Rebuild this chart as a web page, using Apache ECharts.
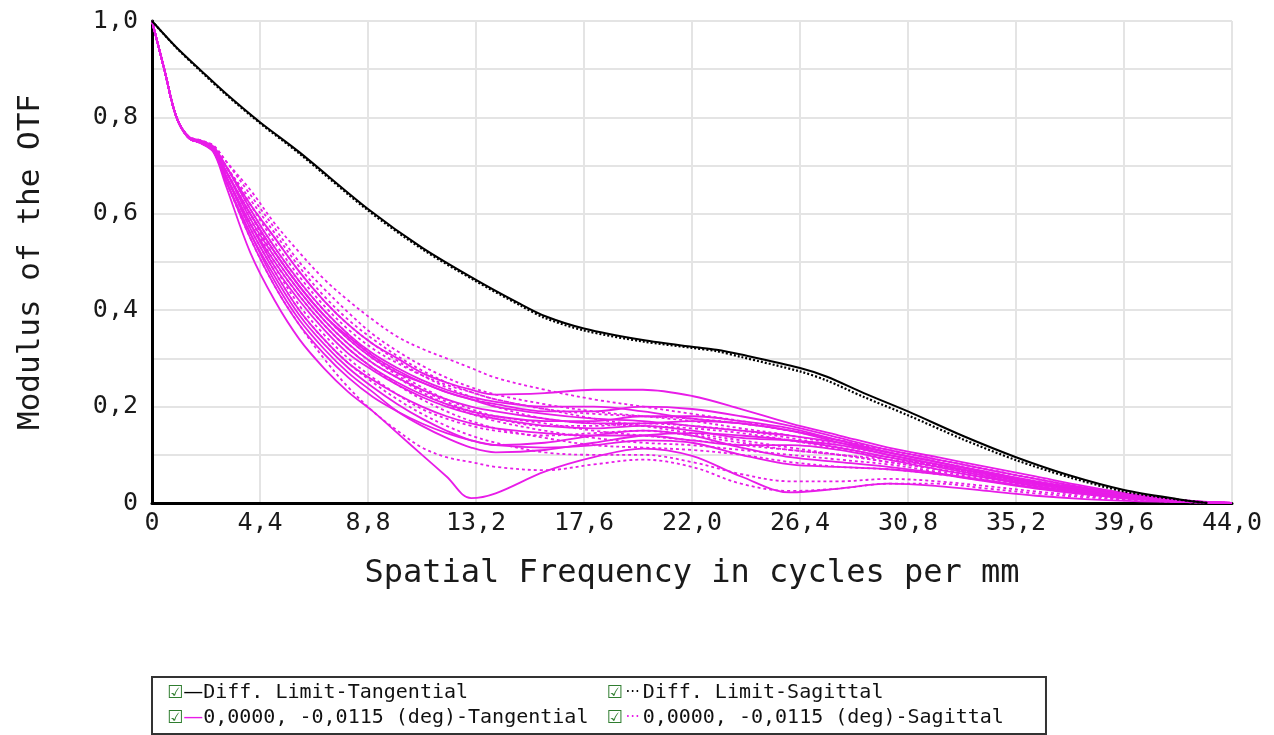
<!DOCTYPE html>
<html>
<head>
<meta charset="utf-8">
<script src="https://cdn.jsdelivr.net/npm/echarts@6/dist/echarts.min.js"></script>
<style>
html,body{margin:0;padding:0;background:#fff;}
#chart{width:1274px;height:735px;}
</style>
</head>
<body>
<div id="chart"></div>
<script>
// ---- data ----
const xTicks = [0, 4.4, 8.8, 13.2, 17.6, 22.0, 26.4, 30.8, 35.2, 39.6, 44.0];
const yTicks = [0, 0.2, 0.4, 0.6, 0.8, 1.0];

const legendNames = [
  'Diff. Limit-Tangential',
  'Diff. Limit-Sagittal',
  '0,0000, -0,0115 (deg)-Tangential',
  '0,0000, -0,0115 (deg)-Sagittal'
];

// diffraction limit frequencies & values
const diffX = [0, 1, 2, 3, 4.4, 6, 8.8, 11, 13.2, 15, 16, 17.6, 20, 22, 23, 24, 26.4, 27.5, 29, 30.8, 33, 35.2, 37.4, 39.6, 41.8, 43];
const diffTan = [1.0, 0.945, 0.897, 0.85, 0.79, 0.728, 0.61, 0.53, 0.463, 0.413, 0.388, 0.362, 0.338, 0.324, 0.318, 0.308, 0.28, 0.262, 0.228, 0.19, 0.14, 0.095, 0.057, 0.027, 0.008, 0.0];
const diffSag = [1.0, 0.944, 0.895, 0.848, 0.788, 0.725, 0.607, 0.527, 0.46, 0.41, 0.384, 0.358, 0.335, 0.322, 0.315, 0.303, 0.273, 0.254, 0.22, 0.182, 0.133, 0.089, 0.053, 0.024, 0.007, 0.0];

// field curves frequencies
const fx = [0, 0.5, 1, 1.5, 2, 2.5, 3, 4, 5, 6, 7, 8, 9, 10, 11, 12, 13, 14, 16, 18, 20, 22, 24, 26, 28, 30, 32, 34, 36, 38, 40, 42, 44];

const tan1  = [1.0,0.90,0.80,0.757,0.746,0.728,0.66,0.52,0.42,0.34,0.28,0.23,0.19,0.145,0.10,0.055,0.01,0.02,0.065,0.095,0.113,0.098,0.055,0.022,0.03,0.04,0.035,0.025,0.015,0.008,0.004,0.002,0.0];
const tan2  = [1.0,0.90,0.80,0.760,0.752,0.740,0.70,0.62,0.55,0.48,0.42,0.37,0.33,0.30,0.27,0.25,0.235,0.225,0.228,0.235,0.235,0.222,0.195,0.165,0.14,0.115,0.095,0.075,0.055,0.035,0.018,0.006,0.0];
const tan3  = [1.0,0.90,0.80,0.759,0.750,0.736,0.69,0.60,0.52,0.45,0.39,0.34,0.30,0.27,0.25,0.23,0.215,0.205,0.19,0.19,0.20,0.195,0.18,0.16,0.135,0.11,0.09,0.07,0.05,0.032,0.016,0.005,0.0];
const tan4  = [1.0,0.90,0.80,0.758,0.748,0.733,0.69,0.59,0.51,0.44,0.38,0.33,0.29,0.26,0.235,0.215,0.20,0.19,0.175,0.165,0.165,0.17,0.165,0.15,0.125,0.10,0.08,0.06,0.042,0.027,0.013,0.004,0.0];
const tan5  = [1.0,0.90,0.80,0.758,0.748,0.732,0.68,0.58,0.49,0.42,0.36,0.31,0.275,0.245,0.22,0.20,0.185,0.175,0.16,0.155,0.16,0.15,0.135,0.13,0.12,0.10,0.08,0.06,0.04,0.025,0.012,0.004,0.0];
const tan6  = [1.0,0.90,0.80,0.757,0.747,0.730,0.68,0.57,0.48,0.40,0.34,0.29,0.255,0.225,0.20,0.18,0.165,0.155,0.145,0.14,0.14,0.13,0.12,0.12,0.11,0.09,0.07,0.052,0.035,0.022,0.010,0.003,0.0];
const tan7  = [1.0,0.90,0.80,0.757,0.747,0.729,0.67,0.55,0.45,0.37,0.31,0.26,0.22,0.19,0.165,0.145,0.13,0.12,0.115,0.12,0.13,0.125,0.10,0.08,0.075,0.07,0.06,0.045,0.03,0.018,0.008,0.003,0.0];
const tan8  = [1.0,0.90,0.80,0.759,0.750,0.737,0.70,0.61,0.53,0.46,0.40,0.35,0.31,0.28,0.255,0.235,0.22,0.21,0.20,0.20,0.19,0.175,0.165,0.15,0.13,0.105,0.085,0.065,0.045,0.03,0.015,0.005,0.0];
const tan9  = [1.0,0.90,0.80,0.758,0.747,0.731,0.67,0.56,0.46,0.38,0.32,0.27,0.23,0.19,0.16,0.135,0.115,0.105,0.11,0.125,0.14,0.145,0.14,0.13,0.115,0.095,0.075,0.055,0.038,0.024,0.011,0.003,0.0];
const tan10 = [1.0,0.90,0.80,0.759,0.749,0.735,0.69,0.60,0.52,0.45,0.39,0.345,0.305,0.275,0.25,0.23,0.215,0.20,0.185,0.175,0.17,0.16,0.15,0.14,0.125,0.105,0.085,0.063,0.044,0.028,0.013,0.004,0.0];
const tan11 = [1.0,0.90,0.80,0.758,0.748,0.733,0.68,0.58,0.50,0.43,0.37,0.32,0.28,0.25,0.225,0.205,0.19,0.18,0.17,0.17,0.18,0.18,0.17,0.155,0.13,0.105,0.085,0.064,0.045,0.028,0.014,0.004,0.0];
const tan12 = [1.0,0.90,0.80,0.757,0.747,0.730,0.67,0.56,0.47,0.39,0.33,0.28,0.24,0.205,0.175,0.15,0.13,0.12,0.125,0.14,0.15,0.14,0.115,0.095,0.085,0.075,0.062,0.047,0.032,0.02,0.009,0.003,0.0];

const sag1  = [1.0,0.90,0.80,0.760,0.752,0.742,0.71,0.65,0.58,0.52,0.465,0.42,0.38,0.345,0.32,0.30,0.28,0.26,0.235,0.215,0.20,0.185,0.17,0.15,0.13,0.11,0.09,0.07,0.05,0.032,0.016,0.005,0.0];
const sag2  = [1.0,0.90,0.80,0.760,0.751,0.739,0.70,0.63,0.56,0.49,0.43,0.38,0.34,0.305,0.275,0.25,0.23,0.215,0.195,0.185,0.18,0.175,0.165,0.15,0.13,0.11,0.09,0.07,0.05,0.032,0.016,0.005,0.0];
const sag3  = [1.0,0.90,0.80,0.757,0.746,0.730,0.67,0.55,0.45,0.37,0.30,0.24,0.19,0.15,0.115,0.095,0.085,0.075,0.068,0.08,0.09,0.075,0.04,0.025,0.03,0.04,0.04,0.03,0.02,0.012,0.006,0.002,0.0];
const sag4  = [1.0,0.90,0.80,0.759,0.750,0.737,0.70,0.62,0.54,0.47,0.41,0.36,0.32,0.29,0.265,0.245,0.23,0.215,0.195,0.175,0.16,0.145,0.13,0.115,0.10,0.085,0.07,0.055,0.04,0.026,0.013,0.004,0.0];
const sag5  = [1.0,0.90,0.80,0.758,0.748,0.733,0.69,0.60,0.51,0.44,0.38,0.33,0.29,0.26,0.23,0.205,0.185,0.17,0.15,0.135,0.125,0.12,0.11,0.10,0.09,0.08,0.065,0.05,0.035,0.022,0.011,0.003,0.0];
const sag6  = [1.0,0.90,0.80,0.758,0.749,0.735,0.70,0.61,0.53,0.46,0.40,0.35,0.305,0.27,0.24,0.215,0.195,0.18,0.165,0.15,0.14,0.13,0.12,0.11,0.10,0.09,0.075,0.058,0.04,0.025,0.012,0.004,0.0];
const sag7  = [1.0,0.90,0.80,0.757,0.747,0.731,0.68,0.57,0.48,0.40,0.34,0.29,0.25,0.215,0.185,0.16,0.14,0.125,0.105,0.10,0.10,0.085,0.06,0.045,0.045,0.05,0.045,0.035,0.024,0.015,0.007,0.002,0.0];
const sag8  = [1.0,0.90,0.80,0.760,0.752,0.741,0.71,0.64,0.57,0.50,0.445,0.395,0.35,0.315,0.285,0.26,0.24,0.225,0.205,0.19,0.18,0.17,0.155,0.14,0.12,0.10,0.08,0.062,0.044,0.028,0.014,0.004,0.0];
const sag9  = [1.0,0.90,0.80,0.757,0.747,0.731,0.68,0.58,0.49,0.41,0.35,0.30,0.26,0.225,0.195,0.175,0.16,0.15,0.14,0.145,0.15,0.14,0.125,0.11,0.10,0.085,0.07,0.053,0.037,0.023,0.011,0.003,0.0];
const sag10 = [1.0,0.90,0.80,0.758,0.749,0.734,0.69,0.60,0.52,0.45,0.39,0.34,0.30,0.265,0.235,0.21,0.19,0.175,0.16,0.16,0.165,0.16,0.15,0.135,0.115,0.095,0.077,0.058,0.04,0.025,0.012,0.004,0.0];
const sag11 = [1.0,0.90,0.80,0.758,0.748,0.733,0.69,0.59,0.50,0.43,0.37,0.32,0.28,0.245,0.215,0.19,0.17,0.155,0.135,0.12,0.115,0.11,0.10,0.085,0.075,0.07,0.06,0.046,0.032,0.02,0.010,0.003,0.0];
const sag12 = [1.0,0.90,0.80,0.759,0.750,0.738,0.70,0.62,0.55,0.48,0.42,0.37,0.33,0.295,0.265,0.24,0.22,0.20,0.175,0.165,0.16,0.155,0.145,0.13,0.112,0.095,0.078,0.06,0.042,0.027,0.013,0.004,0.0];

const tangentialCurves = [tan1, tan2, tan3, tan4, tan5, tan6, tan7, tan8, tan9, tan10, tan11, tan12];
const sagittalCurves = [sag1, sag2, sag3, sag4, sag5, sag6, sag7, sag8, sag9, sag10, sag11, sag12];

// ---- chart ----
const MAG = '#e81ce8';
const MONO = '"DejaVu Sans Mono", "Liberation Mono", monospace';

function pairs(xs, ys) { return xs.map((x, i) => [x, ys[i]]); }
function fmtNum(v) { return Math.abs(v) < 1e-9 ? '0' : v.toFixed(1).replace('.', ','); }

const series = [];
sagittalCurves.forEach(c => series.push({
  name: legendNames[3], type: 'line', data: pairs(fx, c), showSymbol: false, symbol: 'none',
  smooth: 0.35, lineStyle: { color: MAG, width: 1.8, type: [3, 3] }, itemStyle: { color: MAG },
  z: 2
}));
tangentialCurves.forEach(c => series.push({
  name: legendNames[2], type: 'line', data: pairs(fx, c), showSymbol: false, symbol: 'none',
  smooth: 0.35, lineStyle: { color: MAG, width: 1.8 }, itemStyle: { color: MAG },
  z: 3
}));
series.push({
  name: legendNames[1], type: 'line', data: pairs(diffX, diffSag), showSymbol: false, symbol: 'none',
  smooth: 0.3, lineStyle: { color: '#000', width: 2.2, type: [2, 2] }, itemStyle: { color: '#000' }, z: 4
});
series.push({
  name: legendNames[0], type: 'line', data: pairs(diffX, diffTan), showSymbol: false, symbol: 'none',
  smooth: 0.3, lineStyle: { color: '#000', width: 2 }, itemStyle: { color: '#000' }, z: 5
});

const legendGlyph = {};
legendGlyph[legendNames[0]] = '{k|—}';
legendGlyph[legendNames[1]] = '{kd|···}';
legendGlyph[legendNames[2]] = '{m|—}';
legendGlyph[legendNames[3]] = '{md|···}';
const padLen = 33;

const chart = echarts.init(document.getElementById('chart'), null, { renderer: 'canvas' });
chart.setOption({
  animation: false,
  backgroundColor: '#fff',
  grid: { left: 152, right: 42, top: 21, bottom: 232, containLabel: false },
  xAxis: {
    type: 'value', min: 0, max: 44, interval: 4.4,
    name: 'Spatial Frequency in cycles per mm', nameLocation: 'middle', nameGap: 55,
    nameTextStyle: { fontFamily: MONO, fontSize: 32, color: '#1a1a1a' },
    axisLine: { show: true, onZero: false, lineStyle: { color: '#000', width: 3 } },
    axisTick: { show: false },
    axisLabel: { fontFamily: MONO, fontSize: 25, color: '#1a1a1a', margin: 8, formatter: fmtNum },
    splitLine: { show: true, lineStyle: { color: '#e4e4e4', width: 2 } }
  },
  yAxis: {
    type: 'value', min: 0, max: 1, interval: 0.1,
    name: 'Modulus of the OTF', nameLocation: 'middle', nameGap: 106, nameRotate: 90,
    nameTextStyle: { fontFamily: MONO, fontSize: 31, color: '#1a1a1a' },
    axisLine: { show: true, onZero: false, lineStyle: { color: '#000', width: 3 } },
    axisTick: { show: false },
    axisLabel: {
      fontFamily: MONO, fontSize: 25, color: '#1a1a1a', margin: 14,
      formatter: v => (yTicks.some(t => Math.abs(t - v) < 1e-6) ? fmtNum(v) : '')
    },
    splitLine: { show: true, lineStyle: { color: '#e4e4e4', width: 2 } }
  },
  legend: {
    data: legendNames,
    left: 152, top: 677, width: 920,
    orient: 'horizontal',
    icon: 'rect',
    itemWidth: 0, itemHeight: 24, itemGap: 1,
    itemStyle: { opacity: 0 },
    lineStyle: { opacity: 0 },
    padding: [4, 6, 4, 10],
    borderColor: '#333', borderWidth: 2,
    selectedMode: false,
    formatter: name => '{cb|☑}' + legendGlyph[name] + '{t|' + name.padEnd(padLen, ' ') + '}',
    textStyle: {
      fontFamily: MONO, fontSize: 20, color: '#111',
      rich: {
        cb: { fontFamily: '"DejaVu Sans"', fontSize: 18, color: '#2f7d2f', lineHeight: 24 },
        k: { fontFamily: '"DejaVu Sans"', fontSize: 20, color: '#000', width: 20, lineHeight: 24 },
        kd: { fontFamily: '"DejaVu Sans"', fontSize: 15, color: '#000', width: 20, align: 'center', lineHeight: 24 },
        m: { fontFamily: '"DejaVu Sans"', fontSize: 20, color: MAG, width: 20, lineHeight: 24 },
        md: { fontFamily: '"DejaVu Sans"', fontSize: 15, color: MAG, width: 20, align: 'center', lineHeight: 24 },
        t: { fontFamily: MONO, fontSize: 20, color: '#111', lineHeight: 24 }
      }
    }
  },
  series: series
});
</script>
</body>
</html>
